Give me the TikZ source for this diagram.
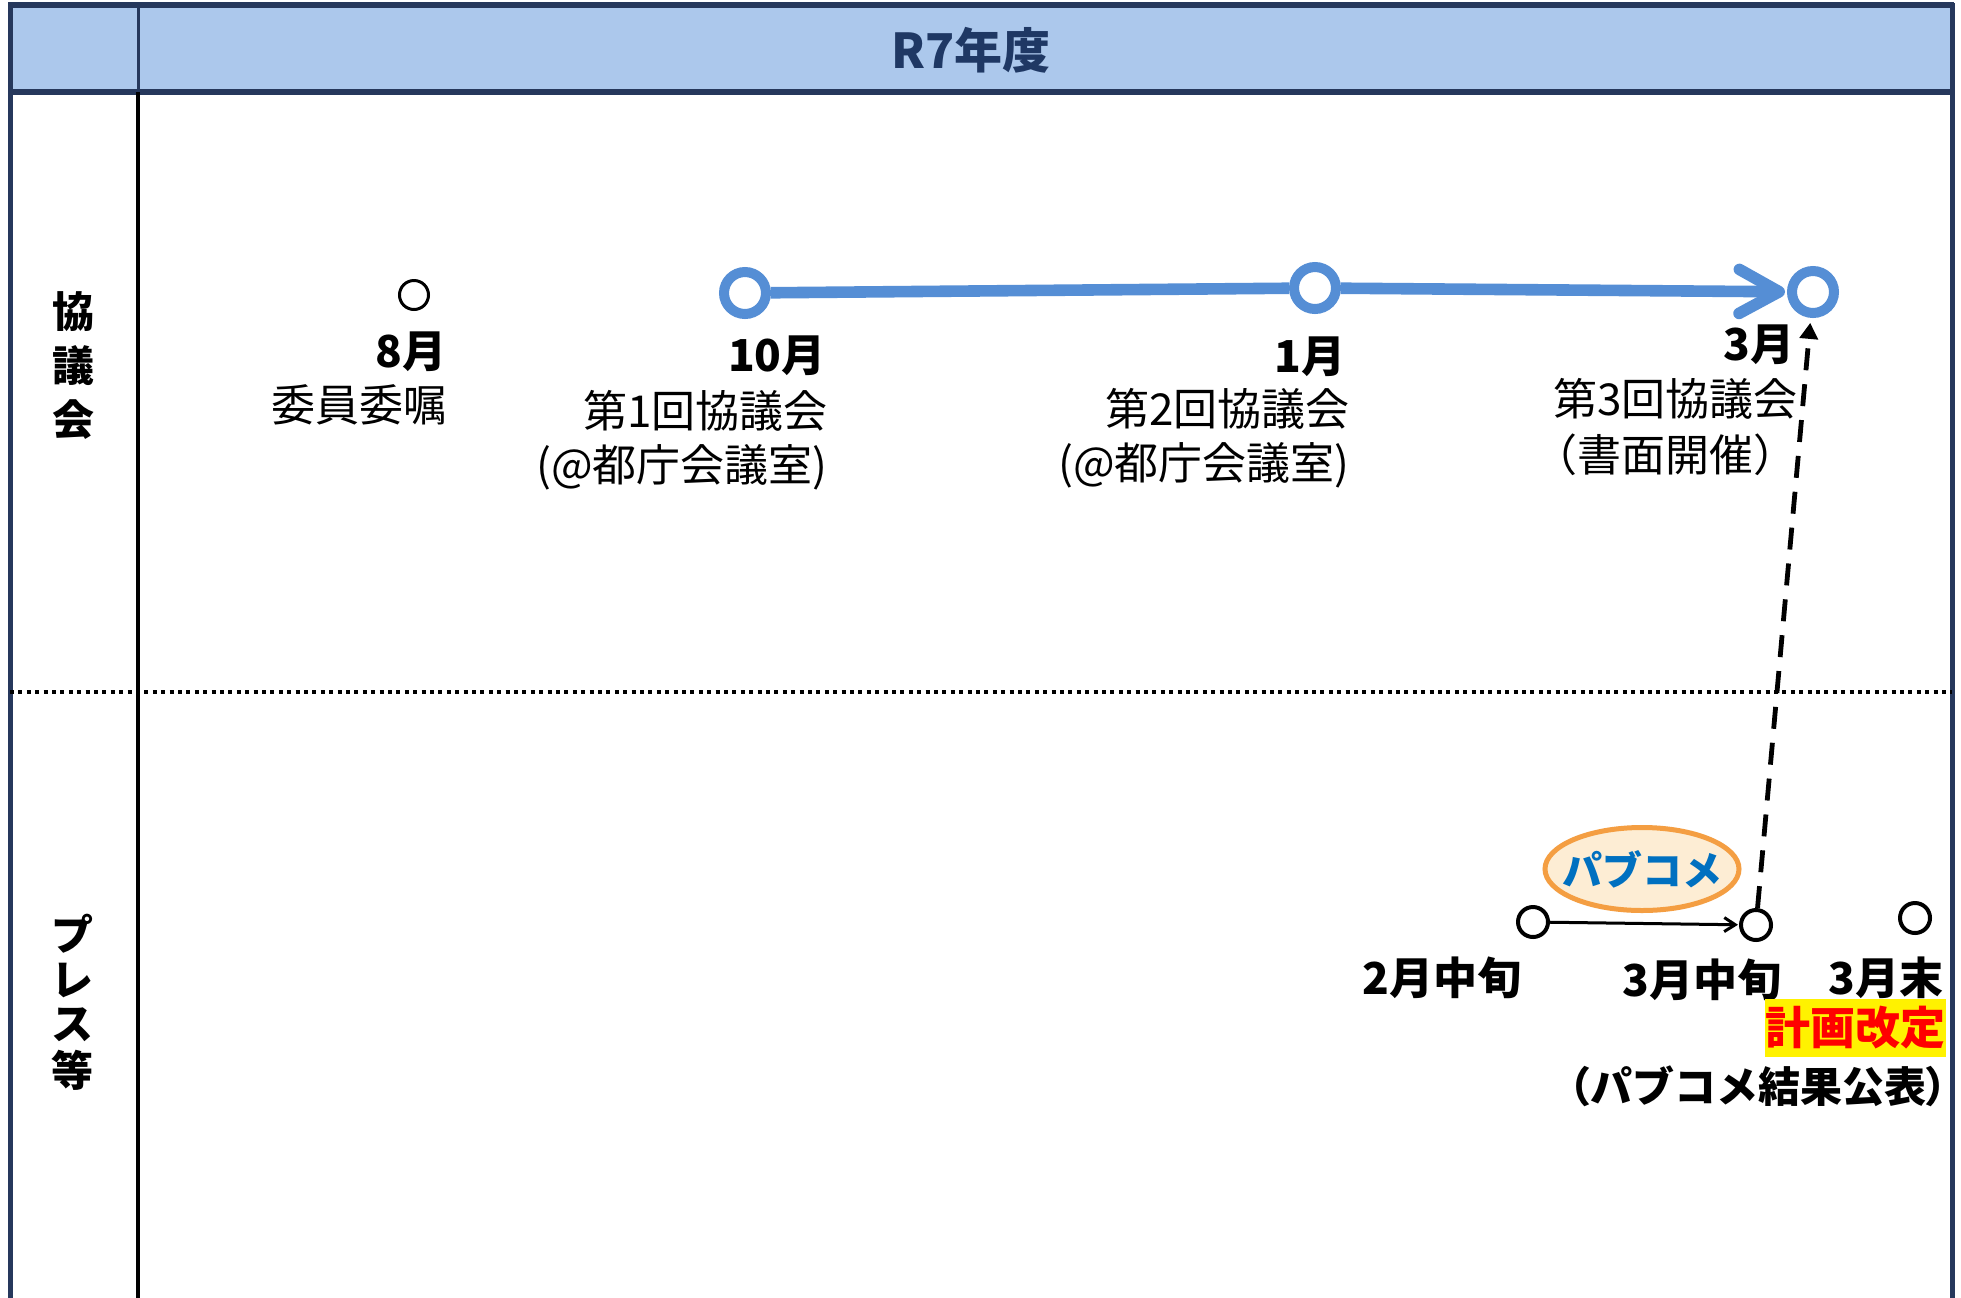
\documentclass[tikz,border=0pt]{standalone}
\usepackage{fontspec}
\setmainfont{Noto Sans CJK JP}
\newfontfamily\jpp{Noto Sans CJK JP}[RawFeature=+palt]
\usetikzlibrary{arrows.meta,shapes.geometric}
\definecolor{navy}{RGB}{38,56,92}
\definecolor{hdr}{RGB}{172,200,236}
\definecolor{hdrtext}{RGB}{31,56,100}
\definecolor{tlblue}{RGB}{85,142,213}
\definecolor{pcblue}{RGB}{0,112,192}
\definecolor{pcorange}{RGB}{244,158,66}
\definecolor{pcfill}{RGB}{253,237,212}
\tikzset{
  lab/.style={inner sep=0pt, font=\fontsize{22pt}{26pt}\selectfont},
  blab/.style={inner sep=0pt, font=\fontsize{22pt}{26pt}\selectfont\bfseries},
  sidelab/.style={inner sep=0pt, font=\fontsize{21pt}{25pt}\selectfont\bfseries},
  bcirc/.style={circle, draw=tlblue, line width=5pt, fill=white, minimum size=21pt, inner sep=0pt},
  scirc/.style={circle, draw=black, line width=1.5pt, fill=white, minimum size=14.5pt, inner sep=0pt},
  lcirc/.style={circle, draw=black, line width=2pt, fill=white, minimum size=15pt, inner sep=0pt},
  blueline/.style={draw=tlblue, line width=5.8pt},
}
\begin{document}
\begin{tikzpicture}[x=0.5pt,y=-0.5pt]
\useasboundingbox (0,0) rectangle (1961,1297);
\fill[white] (0,0) rectangle (1961,1297);
% header
\fill[hdr] (10,5) rectangle (1952,92);
\draw[navy, line width=2.5pt] (10,1310) -- (10,5) -- (1952,5) -- (1952,1310);
\draw[navy, line width=3pt] (8,5) -- (1954,5);
\draw[navy, line width=3pt] (10,92) -- (1952,92);
\draw[navy, line width=1.5pt] (138,5) -- (138,92);
\draw[black, line width=2pt] (138,92) -- (138,1310);
\draw[black, line width=2pt, dash pattern=on 2pt off 2.2pt] (10,692) -- (1952,692);
\node[inner sep=0pt, text=hdrtext, font=\fontsize{24pt}{28pt}\selectfont\bfseries] (title) at (971,50) {R7年度};

% side labels
\node[sidelab] (s1) at (73,312) {協};
\node[sidelab] (s2) at (73,366) {議};
\node[sidelab] (s3) at (73,420) {会};
\node[sidelab] (p1) at (72,934) {プ};
\node[sidelab] (p2) at (72,980) {レ};
\node[sidelab] (p3) at (72,1025) {ス};
\node[sidelab] (p4) at (72,1070) {等};

% upper timeline
\node[scirc] (c8) at (414,295) {};
\node[bcirc] (c10) at (745,293) {};
\node[bcirc] (c1) at (1315,288) {};
\node[bcirc] (c3) at (1813,292) {};
\draw[blueline] (c10) -- (c1);
\draw[blueline, -{Straight Barb[length=20pt,width=22pt,line cap=round,line join=round]}, shorten >=1pt] (c1) -- (c3);

\node[blab, anchor=east] (t8) at (447,352) {8月};
\node[lab, anchor=east] (t8b) at (448,405) {委員委嘱};
\node[blab, anchor=east] (t10) at (826,356) {10月};
\node[lab, anchor=east] (t10b) at (828,411) {第1回協議会};
\node[lab, anchor=east] (t10c) at (828,467) {(@都庁会議室)};
\node[blab, anchor=east] (t1) at (1346,357) {1月};
\node[lab, anchor=east] (t1b) at (1350,409) {第2回協議会};
\node[lab, anchor=east] (t1c) at (1350,465) {(@都庁会議室)};
\node[blab, anchor=east] (t3) at (1795,345) {3月};
\node[lab, anchor=east] (t3b) at (1798,399) {第3回協議会};
\node[lab, anchor=east] (t3c) at (1798,455) {（書面開催）};

% lower timeline
\node[ellipse, draw=pcorange, line width=2.5pt, fill=pcfill, minimum width=97pt, minimum height=41.5pt, inner sep=0pt] (pc) at (1642,869) {};
\node[inner sep=0pt, text=pcblue, font=\fontsize{20pt}{24pt}\selectfont\bfseries] (pct) at (pc.center) {パブコメ};
\node[lcirc] (m2) at (1533,922) {};
\node[lcirc] (m3) at (1756,925) {};
\node[lcirc] (me) at (1915,918) {};
\draw[black, line width=1.5pt, -{Straight Barb[length=5.5pt,width=7pt]}, shorten >=0.5pt] (m2) -- (m3);
\draw[black, line width=2.4pt, dash pattern=on 11pt off 7pt, -{Triangle[length=8pt,width=9pt]}, shorten >=2.5pt] (m3) -- (c3);

\node[blab] (b2) at (1442,978) {2月中旬};
\node[blab] (b3) at (1702,980) {3月中旬};
\node[blab] (be) at (1886,978) {3月末};
\node[fill=yellow, text=red, minimum width=90.5pt, minimum height=29pt, inner sep=0pt, font=\fontsize{22.5pt}{26pt}\selectfont\bfseries] (kk) at (1855.5,1028) {計画改定};
\node[inner sep=0pt, font=\fontsize{21pt}{25pt}\selectfont\bfseries] (pk) at (1758,1086) {{\jpp （}パブコメ結果公表{\jpp ）}};
\end{tikzpicture}
\end{document}
